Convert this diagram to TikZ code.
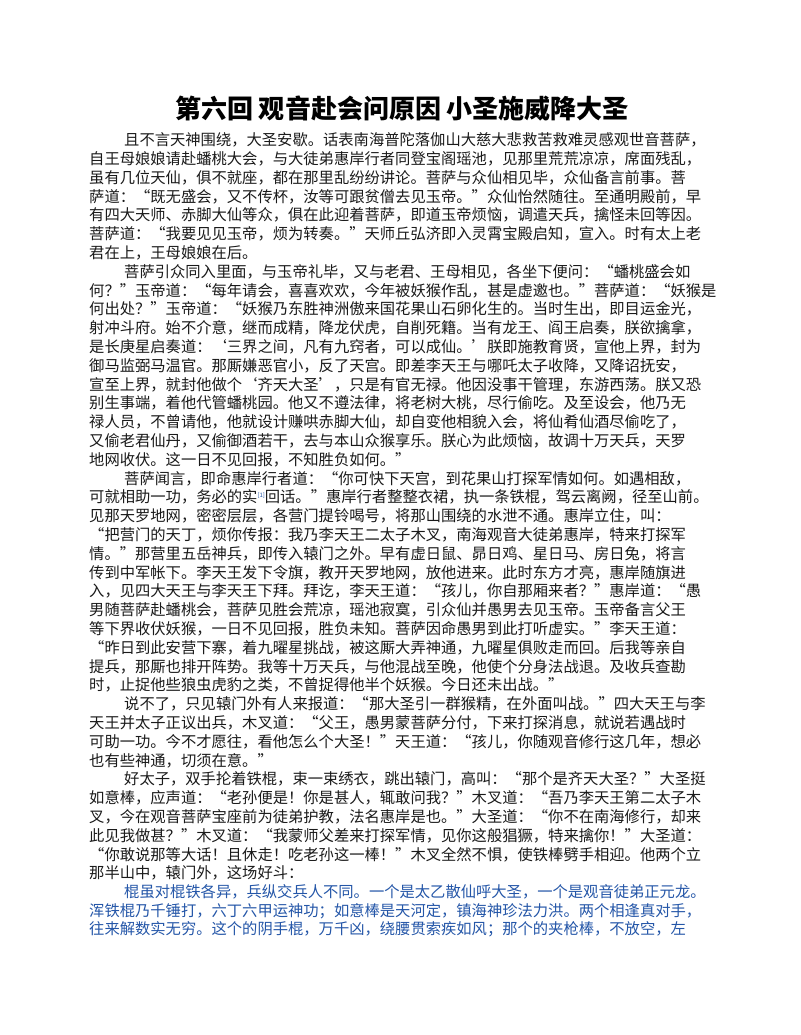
\documentclass[tikz,border=0pt]{standalone}
\usepackage{fontspec}
\setmainfont{Noto Sans CJK SC}
\XeTeXlinebreaklocale "zh"
\XeTeXlinebreakskip=0pt plus 3pt minus 3pt
\definecolor{txt}{HTML}{1A1A1A}
\definecolor{poem}{HTML}{2456A8}
\newcommand\jline[3]{\node[anchor=west,inner sep=0,text=txt,font=\fontsize{15.3}{16}\selectfont] (l#1) at (#2,{140+(#1-1)*18.8}) {\makebox[\dimexpr729pt-#2pt\relax][s]{#3}};}
\newcommand\rline[3]{\node[anchor=west,inner sep=0,text=txt,font=\fontsize{15.3}{16}\selectfont] (l#1) at (#2,{140+(#1-1)*18.8}) {#3};}
\newcommand\pline[3]{\node[anchor=west,inner sep=0,text=poem,font=\fontsize{15.3}{16}\selectfont] (l#1) at (#2,{140+(#1-1)*18.8}) {\makebox[\dimexpr729pt-#2pt\relax][s]{#3}};}
\begin{document}
\begin{tikzpicture}[x=1pt,y=-1pt]
\useasboundingbox (0,0) rectangle (800,1035);
\fill[white] (0,0) rectangle (800,1035);
\node[inner sep=0,text=black,font=\fontsize{26}{28}\selectfont\bfseries] (title) at (402,109) {第六回 观音赴会问原因 小圣施威降大圣};
\jline{1}{124}{且不言天神围绕，大圣安歇。话表南海普陀落伽山大慈大悲救苦救难灵感观世音菩萨，}
\jline{2}{89}{自王母娘娘请赴蟠桃大会，与大徒弟惠岸行者同登宝阁瑶池，见那里荒荒凉凉，席面残乱，}
\jline{3}{89}{虽有几位天仙，俱不就座，都在那里乱纷纷讲论。菩萨与众仙相见毕，众仙备言前事。菩}
\jline{4}{89}{萨道：“既无盛会，又不传杯，汝等可跟贫僧去见玉帝。”众仙怡然随往。至通明殿前，早}
\jline{5}{89}{有四大天师、赤脚大仙等众，俱在此迎着菩萨，即道玉帝烦恼，调遣天兵，擒怪未回等因。}
\jline{6}{89}{菩萨道：“我要见见玉帝，烦为转奏。”天师丘弘济即入灵霄宝殿启知，宣入。时有太上老}
\rline{7}{89}{君在上，王母娘娘在后。}
\jline{8}{124}{菩萨引众同入里面，与玉帝礼毕，又与老君、王母相见，各坐下便问：“蟠桃盛会如}
\jline{9}{89}{何？”玉帝道：“每年请会，喜喜欢欢，今年被妖猴作乱，甚是虚邀也。”菩萨道：“妖猴是}
\jline{10}{89}{何出处？”玉帝道：“妖猴乃东胜神洲傲来国花果山石卵化生的。当时生出，即目运金光，}
\jline{11}{89}{射冲斗府。始不介意，继而成精，降龙伏虎，自削死籍。当有龙王、阎王启奏，朕欲擒拿，}
\jline{12}{89}{是长庚星启奏道：‘三界之间，凡有九窍者，可以成仙。’朕即施教育贤，宣他上界，封为}
\jline{13}{89}{御马监弼马温官。那厮嫌恶官小，反了天宫。即差李天王与哪吒太子收降，又降诏抚安，}
\jline{14}{89}{宣至上界，就封他做个‘齐天大圣’，只是有官无禄。他因没事干管理，东游西荡。朕又恐}
\jline{15}{89}{别生事端，着他代管蟠桃园。他又不遵法律，将老树大桃，尽行偷吃。及至设会，他乃无}
\jline{16}{89}{禄人员，不曾请他，他就设计赚哄赤脚大仙，却自变他相貌入会，将仙肴仙酒尽偷吃了，}
\jline{17}{89}{又偷老君仙丹，又偷御酒若干，去与本山众猴享乐。朕心为此烦恼，故调十万天兵，天罗}
\rline{18}{89}{地网收伏。这一日不见回报，不知胜负如何。”}
\jline{19}{124}{菩萨闻言，即命惠岸行者道：“你可快下天宫，到花果山打探军情如何。如遇相敌，}
\jline{20}{89}{可就相助一功，务必的实{\color{poem}\fontsize{6}{6}\selectfont\raisebox{5pt}{[1]}}回话。”惠岸行者整整衣裙，执一条铁棍，驾云离阙，径至山前。}
\jline{21}{89}{见那天罗地网，密密层层，各营门提铃喝号，将那山围绕的水泄不通。惠岸立住，叫：}
\jline{22}{89}{“把营门的天丁，烦你传报：我乃李天王二太子木叉，南海观音大徒弟惠岸，特来打探军}
\jline{23}{89}{情。”那营里五岳神兵，即传入辕门之外。早有虚日鼠、昴日鸡、星日马、房日兔，将言}
\jline{24}{89}{传到中军帐下。李天王发下令旗，教开天罗地网，放他进来。此时东方才亮，惠岸随旗进}
\jline{25}{89}{入，见四大天王与李天王下拜。拜讫，李天王道：“孩儿，你自那厢来者？”惠岸道：“愚}
\jline{26}{89}{男随菩萨赴蟠桃会，菩萨见胜会荒凉，瑶池寂寞，引众仙并愚男去见玉帝。玉帝备言父王}
\jline{27}{89}{等下界收伏妖猴，一日不见回报，胜负未知。菩萨因命愚男到此打听虚实。”李天王道：}
\jline{28}{89}{“昨日到此安营下寨，着九曜星挑战，被这厮大弄神通，九曜星俱败走而回。后我等亲自}
\jline{29}{89}{提兵，那厮也排开阵势。我等十万天兵，与他混战至晚，他使个分身法战退。及收兵查勘}
\rline{30}{89}{时，止捉他些狼虫虎豹之类，不曾捉得他半个妖猴。今日还未出战。”}
\jline{31}{124}{说不了，只见辕门外有人来报道：“那大圣引一群猴精，在外面叫战。”四大天王与李}
\jline{32}{89}{天王并太子正议出兵，木叉道：“父王，愚男蒙菩萨分付，下来打探消息，就说若遇战时}
\jline{33}{89}{可助一功。今不才愿往，看他怎么个大圣！”天王道：“孩儿，你随观音修行这几年，想必}
\rline{34}{89}{也有些神通，切须在意。”}
\jline{35}{124}{好太子，双手抡着铁棍，束一束绣衣，跳出辕门，高叫：“那个是齐天大圣？”大圣挺}
\jline{36}{89}{如意棒，应声道：“老孙便是！你是甚人，辄敢问我？”木叉道：“吾乃李天王第二太子木}
\jline{37}{89}{叉，今在观音菩萨宝座前为徒弟护教，法名惠岸是也。”大圣道：“你不在南海修行，却来}
\jline{38}{89}{此见我做甚？”木叉道：“我蒙师父差来打探军情，见你这般猖獗，特来擒你！”大圣道：}
\jline{39}{89}{“你敢说那等大话！且休走！吃老孙这一棒！”木叉全然不惧，使铁棒劈手相迎。他两个立}
\rline{40}{89}{那半山中，辕门外，这场好斗：}
\pline{41}{124}{棍虽对棍铁各异，兵纵交兵人不同。一个是太乙散仙呼大圣，一个是观音徒弟正元龙。}
\pline{42}{89}{浑铁棍乃千锤打，六丁六甲运神功；如意棒是天河定，镇海神珍法力洪。两个相逢真对手，}
\pline{43}{89}{往来解数实无穷。这个的阴手棍，万千凶，绕腰贯索疾如风；那个的夹枪棒，不放空，左}
\end{tikzpicture}
\end{document}
